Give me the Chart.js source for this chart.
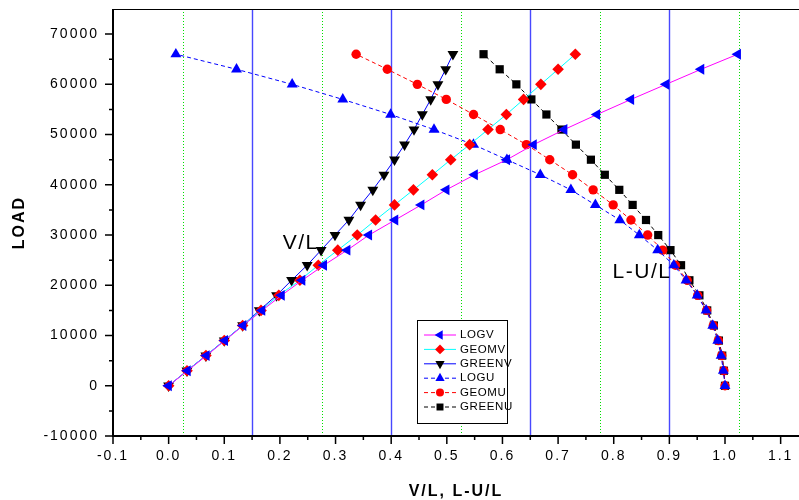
<!DOCTYPE html>
<html>
<head>
<meta charset="utf-8">
<script src="https://cdn.jsdelivr.net/npm/chart.js@4.4.1/dist/chart.umd.min.js"></script>
<style>
html, body { margin: 0; padding: 0; background: #fff; }
#wrap { width: 799px; height: 500px; }
</style>
</head>
<body>
<div id="wrap"><canvas id="loadChart"></canvas></div>
<script>
// load steps shared by every series
const loads = [0, 3000, 6000, 9000, 12000, 15000, 18000, 21000, 24000, 27000, 30000, 33000,
               36000, 39000, 42000, 45000, 48000, 51000, 54000, 57000, 60000, 63000, 66000];

// V/L values
const logV   = [0, 0.034, 0.068, 0.101, 0.134, 0.168, 0.203, 0.240, 0.279, 0.321, 0.360, 0.407,
                0.454, 0.499, 0.550, 0.608, 0.656, 0.711, 0.770, 0.831, 0.894, 0.957, 1.023];
const geomV  = [0, 0.033, 0.067, 0.100, 0.133, 0.166, 0.198, 0.236, 0.269, 0.304, 0.339, 0.372,
                0.406, 0.440, 0.474, 0.507, 0.541, 0.574, 0.607, 0.638, 0.669, 0.700, 0.731];
const greenV = [0, 0.033, 0.067, 0.100, 0.133, 0.163, 0.194, 0.221, 0.249, 0.274, 0.299, 0.324,
                0.345, 0.367, 0.387, 0.406, 0.424, 0.441, 0.456, 0.471, 0.484, 0.498, 0.511];

// L-U/L values
const logU   = [1.0, 0.997, 0.993, 0.987, 0.978, 0.966, 0.950, 0.930, 0.908, 0.879, 0.846, 0.811,
                0.767, 0.723, 0.668, 0.608, 0.548, 0.477, 0.399, 0.313, 0.222, 0.122, 0.013];
const geomU  = [1.0, 0.998, 0.994, 0.988, 0.979, 0.967, 0.951, 0.932, 0.911, 0.888, 0.861, 0.831,
                0.799, 0.763, 0.726, 0.685, 0.643, 0.596, 0.548, 0.499, 0.447, 0.393, 0.337];
const greenU = [1.0, 0.998, 0.995, 0.989, 0.980, 0.968, 0.954, 0.936, 0.921, 0.902, 0.880, 0.858,
                0.834, 0.810, 0.784, 0.759, 0.732, 0.706, 0.679, 0.652, 0.625, 0.595, 0.566];

const seriesNames = ['LOGV', 'GEOMV', 'GREENV', 'LOGU', 'GEOMU', 'GREENU'];

// tick labels
const xTickValues = [-0.1, 0.0, 0.1, 0.2, 0.3, 0.4, 0.5, 0.6, 0.7, 0.8, 0.9, 1.0, 1.1];
const yTickValues = [-10000, 0, 10000, 20000, 30000, 40000, 50000, 60000, 70000];

// vertical reference lines
const blueLinesX  = [0.15, 0.4, 0.65, 0.9];
const greenLinesX = [0.025, 0.275, 0.525, 0.775, 1.025];

// text labels in the plot (x, load)
const curveLabels = [
    { text: 'V/L',   x: 0.205, y: 27200 },
    { text: 'L-U/L', x: 0.798, y: 21400 }
];

function makeSeries(label, xs, markColor, lineColor, style, rot, radius, dash) {
    return {
        label: label,
        data: xs.map((x, i) => ({ x: x, y: loads[i] })),
        showLine: true,
        borderColor: lineColor,
        borderWidth: 1,
        borderDash: dash,
        backgroundColor: markColor,
        pointStyle: style,
        pointRotation: rot,
        pointRadius: radius,
        pointHoverRadius: radius,
        pointBackgroundColor: markColor,
        pointBorderColor: markColor,
        pointBorderWidth: 0
    };
}

const datasets = [
    makeSeries(seriesNames[0], logV,   '#0000ff', '#ff00ff', 'triangle', -90, 6.3, []),
    makeSeries(seriesNames[1], geomV,  '#ff0000', '#00ffff', 'rectRot',   0,  5.8, []),
    makeSeries(seriesNames[2], greenV, '#000000', '#0000ff', 'triangle', 180, 6.3, []),
    makeSeries(seriesNames[3], logU,   '#0000ff', '#0000ff', 'triangle',   0, 6.3, [4, 3]),
    makeSeries(seriesNames[4], geomU,  '#ff0000', '#ff0000', 'circle',     0, 4.7, [4, 3]),
    makeSeries(seriesNames[5], greenU, '#000000', '#000000', 'rect',       0, 5.8, [4, 3])
];

const refLines = {
    id: 'refLines',
    beforeDatasetsDraw(chart) {
        const ctx = chart.ctx, area = chart.chartArea, sx = chart.scales.x;
        ctx.save();
        ctx.lineWidth = 1;
        ctx.strokeStyle = '#00e000';
        ctx.setLineDash([1, 2]);
        greenLinesX.forEach(v => {
            const px = Math.round(sx.getPixelForValue(v)) + 0.5;
            ctx.beginPath(); ctx.moveTo(px, area.top); ctx.lineTo(px, area.bottom); ctx.stroke();
        });
        ctx.setLineDash([]);
        ctx.lineWidth = 1.4;
        ctx.strokeStyle = '#4848ff';
        blueLinesX.forEach(v => {
            const px = Math.round(sx.getPixelForValue(v)) + 0.5;
            ctx.beginPath(); ctx.moveTo(px, area.top); ctx.lineTo(px, area.bottom); ctx.stroke();
        });
        ctx.restore();
    }
};

const frameAndLegend = {
    id: 'frameAndLegend',
    beforeDraw(chart) {
        chart.ctx.letterSpacing = '2px';
    },
    afterDraw(chart) {
        const ctx = chart.ctx, area = chart.chartArea;
        const sx = chart.scales.x, sy = chart.scales.y;
        ctx.save();
        ctx.strokeStyle = '#000';
        ctx.fillStyle = '#000';

        // top frame line
        ctx.lineWidth = 1;
        ctx.beginPath(); ctx.moveTo(area.left, area.top + 0.5); ctx.lineTo(area.right, area.top + 0.5); ctx.stroke();

        // axis lines
        ctx.lineWidth = 2;
        ctx.beginPath();
        ctx.moveTo(area.left, area.top); ctx.lineTo(area.left, area.bottom + 1);
        ctx.moveTo(area.left - 1, area.bottom); ctx.lineTo(area.right, area.bottom);
        ctx.stroke();

        // y ticks
        ctx.lineWidth = 1.5;
        ctx.beginPath();
        for (let k = -10; k <= 70; k += 5) {
            const py = sy.getPixelForValue(k * 1000);
            const len = (k % 10 === 0) ? 8 : 4;
            ctx.moveTo(area.left - len, py); ctx.lineTo(area.left, py);
        }
        // x ticks
        for (let k = -2; k <= 22; k++) {
            const v = k * 0.05;
            if (v > sx.max) break;
            const px = sx.getPixelForValue(v);
            const len = (k % 2 === 0) ? 8 : 4;
            ctx.moveTo(px, area.bottom); ctx.lineTo(px, area.bottom + len);
        }
        ctx.stroke();

        // curve labels
        ctx.letterSpacing = '1.5px';
        ctx.font = '21px Arial, "Liberation Sans", sans-serif';
        ctx.textAlign = 'left';
        ctx.textBaseline = 'alphabetic';
        curveLabels.forEach(l => {
            ctx.fillText(l.text, sx.getPixelForValue(l.x), sy.getPixelForValue(l.y));
        });

        // legend box
        const box = { left: 417, top: 320, width: 90, height: 103 };
        ctx.fillStyle = '#fff';
        ctx.fillRect(box.left, box.top, box.width, box.height);
        ctx.lineWidth = 1;
        ctx.strokeStyle = '#000';
        ctx.strokeRect(box.left + 0.5, box.top + 0.5, box.width, box.height);
        ctx.letterSpacing = '0.6px';
        ctx.font = '11.5px Arial, "Liberation Sans", sans-serif';
        ctx.textBaseline = 'middle';
        chart.data.datasets.forEach((ds, i) => {
            const y = 335 + i * 14.4;
            ctx.strokeStyle = ds.borderColor;
            ctx.setLineDash(ds.borderDash);
            ctx.beginPath(); ctx.moveTo(424, y); ctx.lineTo(456, y); ctx.stroke();
            ctx.setLineDash([]);
            ctx.fillStyle = ds.pointBackgroundColor;
            Chart.helpers.drawPoint(ctx, {
                pointStyle: ds.pointStyle, rotation: ds.pointRotation,
                radius: ds.pointRadius * 0.85, borderWidth: 0
            }, 440, y);
            ctx.fillStyle = '#000';
            ctx.fillText(ds.label, 460, y);
        });
        ctx.restore();
    }
};

new Chart(document.getElementById('loadChart'), {
    type: 'scatter',
    data: { datasets: datasets },
    options: {
        responsive: true,
        maintainAspectRatio: false,
        animation: false,
        layout: { autoPadding: false, padding: { top: 9, right: 0, left: 0, bottom: 0 } },
        plugins: {
            legend: { display: false },
            tooltip: { enabled: false }
        },
        scales: {
            x: {
                type: 'linear',
                min: -0.1,
                max: 1.133,
                grid: { display: false, drawTicks: false },
                border: { display: false },
                afterFit: s => { s.height = 64; s.paddingLeft = 0; s.paddingRight = 0; },
                afterBuildTicks: s => { s.ticks = xTickValues.map(v => ({ value: v })); },
                ticks: {
                    padding: 12,
                    color: '#000',
                    font: { family: 'Arial, "Liberation Sans", sans-serif', size: 14 },
                    callback: v => v.toFixed(1),
                    maxRotation: 0,
                    autoSkip: false
                },
                title: {
                    display: true,
                    text: 'V/L, L-U/L',
                    color: '#000',
                    font: { family: 'Arial, "Liberation Sans", sans-serif', size: 16, weight: 'bold', lineHeight: 1 },
                    padding: { top: 0, bottom: 0 }
                }
            },
            y: {
                type: 'linear',
                min: -10000,
                max: 75000,
                grid: { display: false, drawTicks: false },
                border: { display: false },
                afterFit: s => { s.width = 113; s.paddingTop = 0; s.paddingBottom = 0; },
                afterBuildTicks: s => { s.ticks = yTickValues.map(v => ({ value: v })); },
                ticks: {
                    padding: 14,
                    color: '#000',
                    font: { family: 'Arial, "Liberation Sans", sans-serif', size: 14 },
                    callback: v => String(v),
                    autoSkip: false
                },
                title: {
                    display: true,
                    text: 'LOAD',
                    color: '#000',
                    font: { family: 'Arial, "Liberation Sans", sans-serif', size: 16, weight: 'bold', lineHeight: 1 },
                    padding: { top: 12, bottom: 0 }
                }
            }
        }
    },
    plugins: [refLines, frameAndLegend]
});
</script>
</body>
</html>
